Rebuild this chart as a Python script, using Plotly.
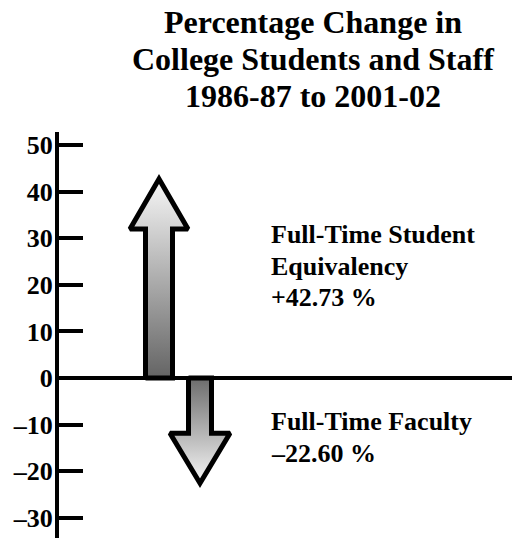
import plotly.graph_objects as go

# ---- data ----
categories = ["Full-Time Student Equivalency", "Full-Time Faculty"]
values = [42.73, -22.60]
positions = [0, 1]
label_lines = [["Full-Time Student", "Equivalency", "+42.73 %"],
               ["Full-Time Faculty", "–22.60 %"]]
title_lines = ["Percentage Change in", "College Students and Staff", "1986-87 to 2001-02"]
tick_vals = [-30, -20, -10, 0, 10, 20, 30, 40, 50]
tick_text = ["–30", "–20", "–10", "0", "10", "20", "30", "40", "50"]

# ---- layout geometry (pixels) ----
OFF = 8  # page body margin offset
W, H = 520, 538
ML, MT, MR, MB = 59 - OFF, 132 - OFF, 0, 0
PW, PH = W - ML - MR, H - MT - MB
PX_PER_UNIT = 4.656
ZERO_SCREEN = 378.0
YMAX = (ZERO_SCREEN - (MT + OFF)) / PX_PER_UNIT
YMIN = -((H - MB + OFF) - ZERO_SCREEN) / PX_PER_UNIT
XUNIT = 41.0  # px per category step
XMIN = -100 / XUNIT
XMAX = XMIN + PW / XUNIT
py_per_unit = PH / (YMAX - YMIN)

shaft_half_px = [13.5, 11.5]
head_half_px = [29.0, 30.0]
head_len_px = 50.0

FONT = "Liberation Serif, Times New Roman, serif"

def px2x(px):
    return (px - OFF - ML) / PW

def px2y(py):
    return (H - MB - (py - OFF)) / PH

fig = go.Figure()

for i, (pos, v) in enumerate(zip(positions, values)):
    sh = shaft_half_px[i] / XUNIT
    hh = head_half_px[i] / XUNIT
    hl = head_len_px / py_per_unit
    sgn = 1 if v >= 0 else -1
    base = v - sgn * hl
    xs = [pos - sh, pos - sh, pos - hh, pos, pos + hh, pos + sh, pos + sh, pos - sh]
    ys = [0, base, base, v, base, base, 0, 0]
    if v >= 0:
        cs = [[0, "#646464"], [1, "#f7f7f7"]]
    else:
        cs = [[0, "#f7f7f7"], [1, "#6c6c6c"]]
    fig.add_trace(go.Scatter(
        x=xs, y=ys, mode="lines", fill="toself",
        fillgradient=dict(type="vertical", colorscale=cs),
        line=dict(color="black", width=5),
        hoverinfo="skip", showlegend=False, name=categories[i],
    ))

annotations = []
# title lines
title_baselines = [33.5, 70, 106.5]
for t, b in zip(title_lines, title_baselines):
    annotations.append(dict(
        text=t, xref="paper", yref="paper", x=px2x(313), y=px2y(b - 11),
        xanchor="center", yanchor="middle", showarrow=False,
        font=dict(family=FONT, size=32, color="black", weight="bold"),
    ))
# data labels
label_baselines = [[243, 275, 306], [430, 462]]
for lines, bls in zip(label_lines, label_baselines):
    for t, b in zip(lines, bls):
        annotations.append(dict(
            text=t, xref="paper", yref="paper", x=px2x(269), y=px2y(b - 9),
            xanchor="left", yanchor="middle", showarrow=False,
            font=dict(family=FONT, size=26, color="black", weight="bold"),
        ))

fig.update_layout(
    width=W, height=H,
    margin=dict(l=ML, r=MR, t=MT, b=MB, pad=0, autoexpand=False),
    paper_bgcolor="white", plot_bgcolor="white",
    font=dict(family=FONT, size=26, color="black"),
    annotations=annotations,
    showlegend=False,
    xaxis=dict(range=[XMIN, XMAX], visible=False, fixedrange=True, automargin=False),
    yaxis=dict(
        range=[YMIN, YMAX], tickvals=tick_vals, ticktext=tick_text,
        ticks="inside", ticklen=24, tickwidth=4, tickcolor="black",
        showline=True, linecolor="black", linewidth=4,
        showgrid=False, zeroline=True, zerolinecolor="black", zerolinewidth=4,
        tickfont=dict(family=FONT, size=26, color="black", weight="bold"),
        ticklabelstandoff=-3,
        fixedrange=True, automargin=False,
    ),
)

fig.write_html("out.html")
